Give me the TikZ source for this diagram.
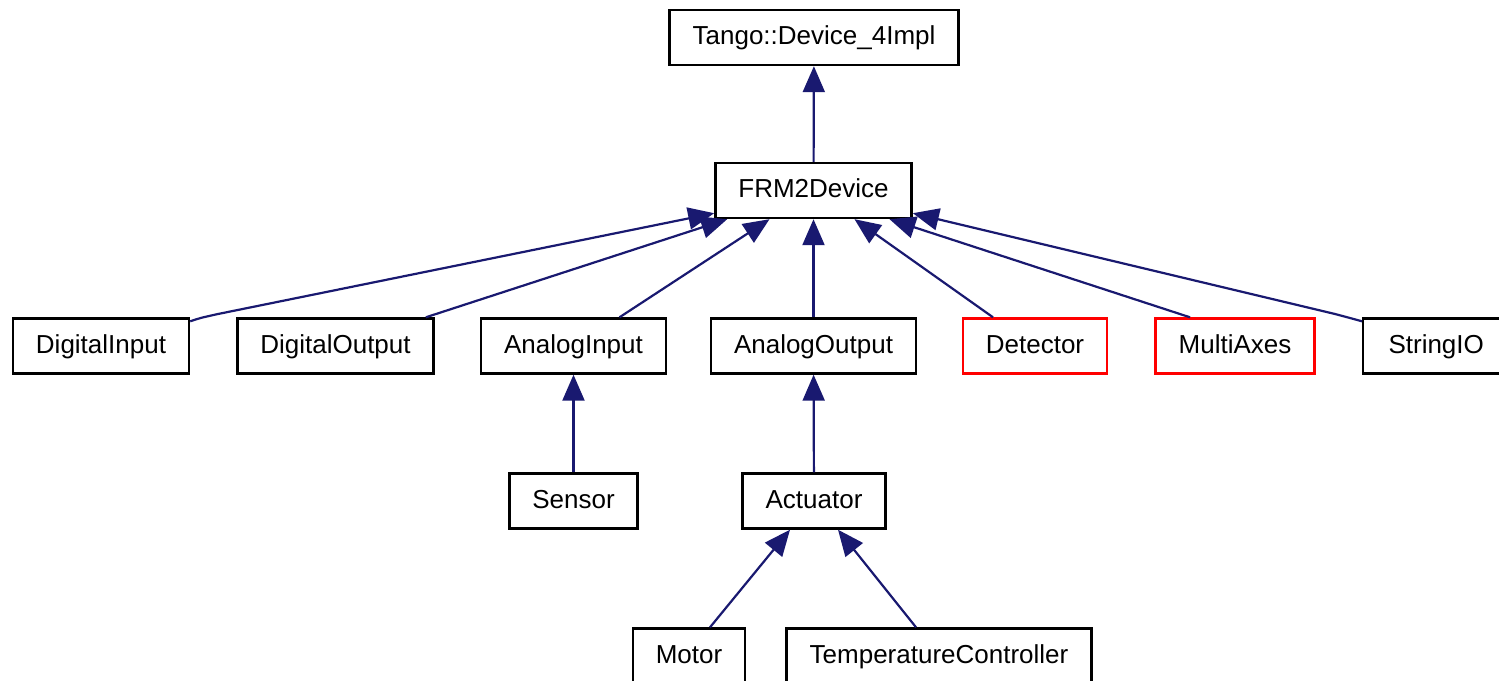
\documentclass[tikz,border=0pt]{standalone}
\usepackage{fontspec}
\setmainfont{Liberation Sans}
\usetikzlibrary{arrows.meta}

\tikzset{
  cls/.style={draw=black,line width=1.2pt,fill=white,inner xsep=11.5pt,text height=9.5pt,text depth=2.5pt,minimum height=27.5pt,font=\fontsize{13}{15}\selectfont},
  part/.style={cls,draw=red},
  inh/.style={draw={rgb,255:red,25;green,25;blue,112},line width=1.1pt,-{Triangle[length=13pt,width=11pt]}},
}

\begin{document}
\begin{tikzpicture}[x=0.5pt,y=-0.5pt]
                \clip (0,0) rectangle (1499,680);
                % classes
                \node[cls] (tango) at (814,37.5) {Tango::Device\_4Impl};
                \node[cls] (frm) at (813.5,190.5) {FRM2Device};
                \node[cls] (di) at (101,346) {DigitalInput};
                \node[cls] (do) at (335.5,346) {DigitalOutput};
                \node[cls] (ai) at (573.5,346) {AnalogInput};
                \node[cls] (ao) at (813.5,346) {AnalogOutput};
                \node[part] (det) at (1035,346) {Detector};
                \node[part] (ma) at (1235,346) {MultiAxes};
                \node[cls,anchor=west,minimum width=73pt] (sio) at (1362,346) {StringIO};
                \node[cls] (sen) at (573.5,501) {Sensor};
                \node[cls] (act) at (814,501) {Actuator};
                \node[cls] (mot) at (689,656) {Motor};
                \node[cls] (tc) at (939,656) {TemperatureController};
                % inheritance
                \draw[inh] (frm) -- (tango);
                \draw[inh] ([yshift=-2pt]di.north east) .. controls (200,318) .. (218,314) -- ([yshift=3pt]frm.south west);
                \draw[inh] ([xshift=-4.5pt]do.north east) -- ([xshift=6.5pt]frm.south west);
                \draw[inh] ([xshift=23pt]ai.north) -- ([xshift=-22pt]frm.south);
                \draw[inh] (ao) -- (frm);
                \draw[inh] ([xshift=-21pt]det.north) -- ([xshift=20.5pt]frm.south);
                \draw[inh] ([xshift=-22.5pt]ma.north) -- ([xshift=38pt]frm.south);
                \draw[inh] ([yshift=-2pt]sio.north west) .. controls (1350,318) .. (1335,314) -- ([yshift=3pt]frm.south east);
                \draw[inh] (sen) -- (ai);
                \draw[inh] (act) -- (ao);
                \draw[inh] ([xshift=10.5pt]mot.north) -- ([xshift=-12pt]act.south);
                \draw[inh] ([xshift=-11.5pt]tc.north) -- ([xshift=12pt]act.south);
            \end{tikzpicture}
\end{document}
